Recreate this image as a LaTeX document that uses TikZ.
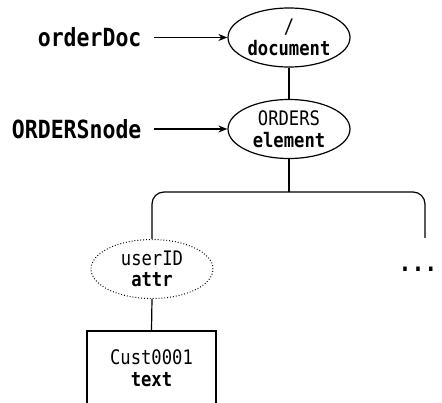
\documentclass[tikz,border=0pt]{standalone}
\usepackage{fontspec}
\setmainfont{DejaVu Sans Mono}[FakeStretch=0.86]
\usetikzlibrary{shapes.geometric,arrows.meta}
\begin{document}
\begin{tikzpicture}[x=1pt,y=1pt,line width=1.2pt,
  nodetext/.style={font=\fontsize{20}{21.5}\selectfont, align=center},
  oval/.style={ellipse, draw, nodetext, inner sep=0pt, minimum width=122pt, minimum height=59pt},
  reflabel/.style={font=\bfseries\fontsize{25}{28}\selectfont, inner sep=0pt},
  refarrow/.style={-{Stealth[length=9pt,width=7pt]}, shorten <=12pt},
  textbox/.style={rectangle, draw, nodetext, minimum width=129pt, minimum height=74pt, inner sep=0pt}
]
\clip (0,0) rectangle (442,402);
\node[oval] (doc) at (289,364.5) {/\\\textbf{document}};
\node[oval] (orders) at (289,273) {ORDERS\\\textbf{element}};
\node[oval, dash pattern=on 0.9pt off 2pt, line width=1pt] (uid) at (152,133) {userID\\\textbf{attr}};
\node[textbox] (cust) at (151.5,34) {Cust0001\\\textbf{text}};
\node[reflabel, anchor=east] (ldoc) at (142,364.5) {orderDoc};
\node[reflabel, anchor=east] (lord) at (142,273) {ORDERSnode};
\node[reflabel, anchor=base] (dots) at (418,130.5) {...};
\coordinate (br) at (289,210);
\coordinate (rt) at (425,164);
\draw[refarrow] (ldoc.east) -- (doc.west);
\draw[refarrow] (lord.east) -- (orders.west);
\draw (doc.south) -- (orders.north);
\draw (orders.south) -- (br);
\draw[rounded corners=12pt] (uid.north) |- (br) -| (rt);
\draw (uid.south) -- (cust.north);
\end{tikzpicture}
\end{document}
